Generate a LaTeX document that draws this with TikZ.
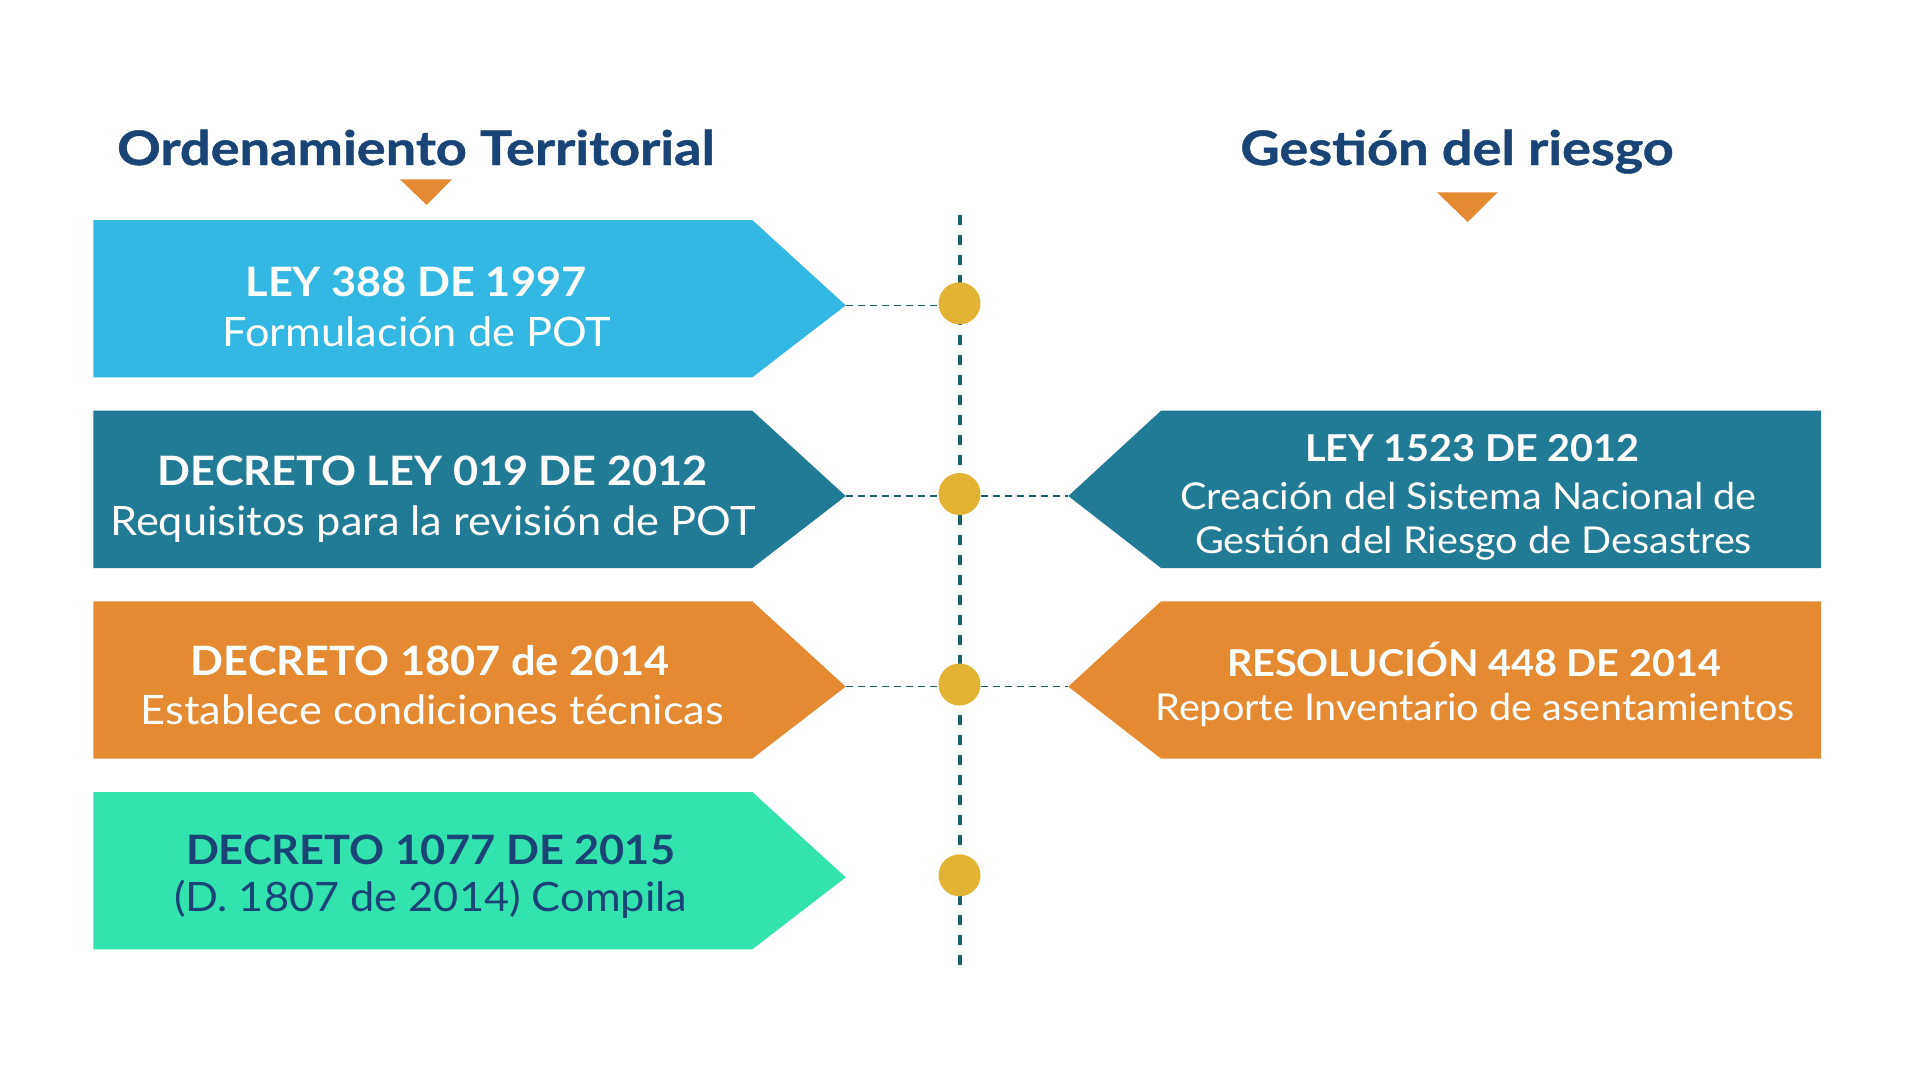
\documentclass[tikz,border=0pt]{standalone}
\usepackage{fontspec}
\setmainfont{Lato}[FakeStretch=1.07]
\newfontfamily\headfont{Lato}[FakeStretch=1.14, BoldFeatures={FakeBold=1}]
\definecolor{cblue}{HTML}{33B8E3}
\definecolor{cteal}{HTML}{217A96}
\definecolor{corange}{HTML}{E38A33}
\definecolor{cmint}{HTML}{33E3AD}
\definecolor{cdot}{HTML}{E3B333}
\definecolor{cnavy}{HTML}{1A4476}
\definecolor{cline}{HTML}{1D5E6E}
\begin{document}
\begin{tikzpicture}[x=1pt,y=-1pt,
  titletxt/.style={anchor=base, inner sep=0pt, text=cnavy, font=\headfont\fontsize{47.5}{56}\selectfont\bfseries},
  lbold/.style={anchor=base, inner sep=0pt, text=white, font=\fontsize{40.5}{48}\selectfont\bfseries},
  lreg/.style={anchor=base, inner sep=0pt, text=white, font=\fontsize{40.5}{48}\selectfont},
  rbold/.style={anchor=base, inner sep=0pt, text=white, font=\fontsize{37}{44}\selectfont\bfseries},
  rreg/.style={anchor=base, inner sep=0pt, text=white, font=\fontsize{37}{44}\selectfont},
  dot/.style={circle, fill=cdot, minimum size=42pt, inner sep=0pt},
  vline/.style={draw=cline, line width=4pt, dash pattern=on 10pt off 10pt},
  hline/.style={draw=cline, line width=1.5pt, dash pattern=on 7pt off 5pt}
]
\useasboundingbox (0,0) rectangle (1920,1080);
\fill[white] (0,0) rectangle (1920,1080);

% titles
\node[titletxt] (titleL) at (416,165) {Ordenamiento Territorial};
\node[titletxt] (titleR) at (1457,165) {Gestión del riesgo};
\fill[corange] (400,179.3) -- (452,179.3) -- (426.7,205) -- cycle;
\fill[corange] (1437,192.3) -- (1497.7,192.3) -- (1467.7,222) -- cycle;

% tips
\coordinate (tipL1) at (845.7,305.3);
\coordinate (tipL2) at (845.7,496);
\coordinate (tipL3) at (845.7,686.6);
\coordinate (tipL4) at (845.7,877.3);
\coordinate (tipR2) at (1068.3,496);
\coordinate (tipR3) at (1068.3,686.6);

% left boxes
\fill[cblue]   (93.3,220)   -- (752.3,220)   -- (tipL1) -- (752.3,377.3) -- (93.3,377.3) -- cycle;
\fill[cteal]   (93.3,410.7) -- (752.3,410.7) -- (tipL2) -- (752.3,568)   -- (93.3,568)   -- cycle;
\fill[corange] (93.3,601.3) -- (752.3,601.3) -- (tipL3) -- (752.3,758.6) -- (93.3,758.6) -- cycle;
\fill[cmint]   (93.3,792)   -- (752.3,792)   -- (tipL4) -- (752.3,949.3) -- (93.3,949.3) -- cycle;

% right boxes
\fill[cteal]   (1821,410.7) -- (1161,410.7) -- (tipR2) -- (1161,568)   -- (1821,568)   -- cycle;
\fill[corange] (1821,601.3) -- (1161,601.3) -- (tipR3) -- (1161,758.6) -- (1821,758.6) -- cycle;

% timeline
\coordinate (vtop) at (960,215);
\coordinate (vbot) at (960,965);
\draw[vline] (vtop) -- (vbot);

\node[dot] (c1) at (959.5,303.3) {};
\node[dot] (c2) at (959.5,494) {};
\node[dot] (c3) at (959.5,684.5) {};
\node[dot] (c4) at (959.5,875.3) {};

\draw[hline] (tipL1) -- (c1.west |- tipL1);
\draw[hline] (tipL2) -- (c2.west |- tipL2);
\draw[hline] (c2.east |- tipR2) -- (tipR2);
\draw[hline] (tipL3) -- (c3.west |- tipL3);
\draw[hline] (c3.east |- tipR3) -- (tipR3);

% left texts
\node[lbold] (t1a) at (416,296.7) {LEY 388 DE 1997};
\node[lreg]  (t1b) at (417,346.7) {Formulación de POT};
\node[lbold] (t2a) at (432.8,485) {DECRETO LEY 019 DE 2012};
\node[lreg]  (t2b) at (433,535) {Requisitos para la revisión de POT};
\node[lbold] (t3a) at (430.5,675) {DECRETO 1807 de 2014};
\node[lreg]  (t3b) at (432.5,724.3) {Establece condiciones técnicas};
\node[lbold, text=cnavy] (t4a) at (430.6,864) {DECRETO 1077 DE 2015};
\node[lreg, text=cnavy]  (t4b) at (430.6,911.7) {(D. 1807 de 2014) Compila};

% right texts
\node[rbold] (r2a) at (1472.6,461.7) {LEY 1523 DE 2012};
\node[rreg]  (r2b) at (1468.5,509) {Creación del Sistema Nacional de};
\node[rreg]  (r2c) at (1473.5,553.3) {Gestión del Riesgo de Desastres};
\node[rbold] (r3a) at (1474,676) {RESOLUCIÓN 448 DE 2014};
\node[rreg]  (r3b) at (1475,720) {Reporte Inventario de asentamientos};
\end{tikzpicture}
\end{document}
